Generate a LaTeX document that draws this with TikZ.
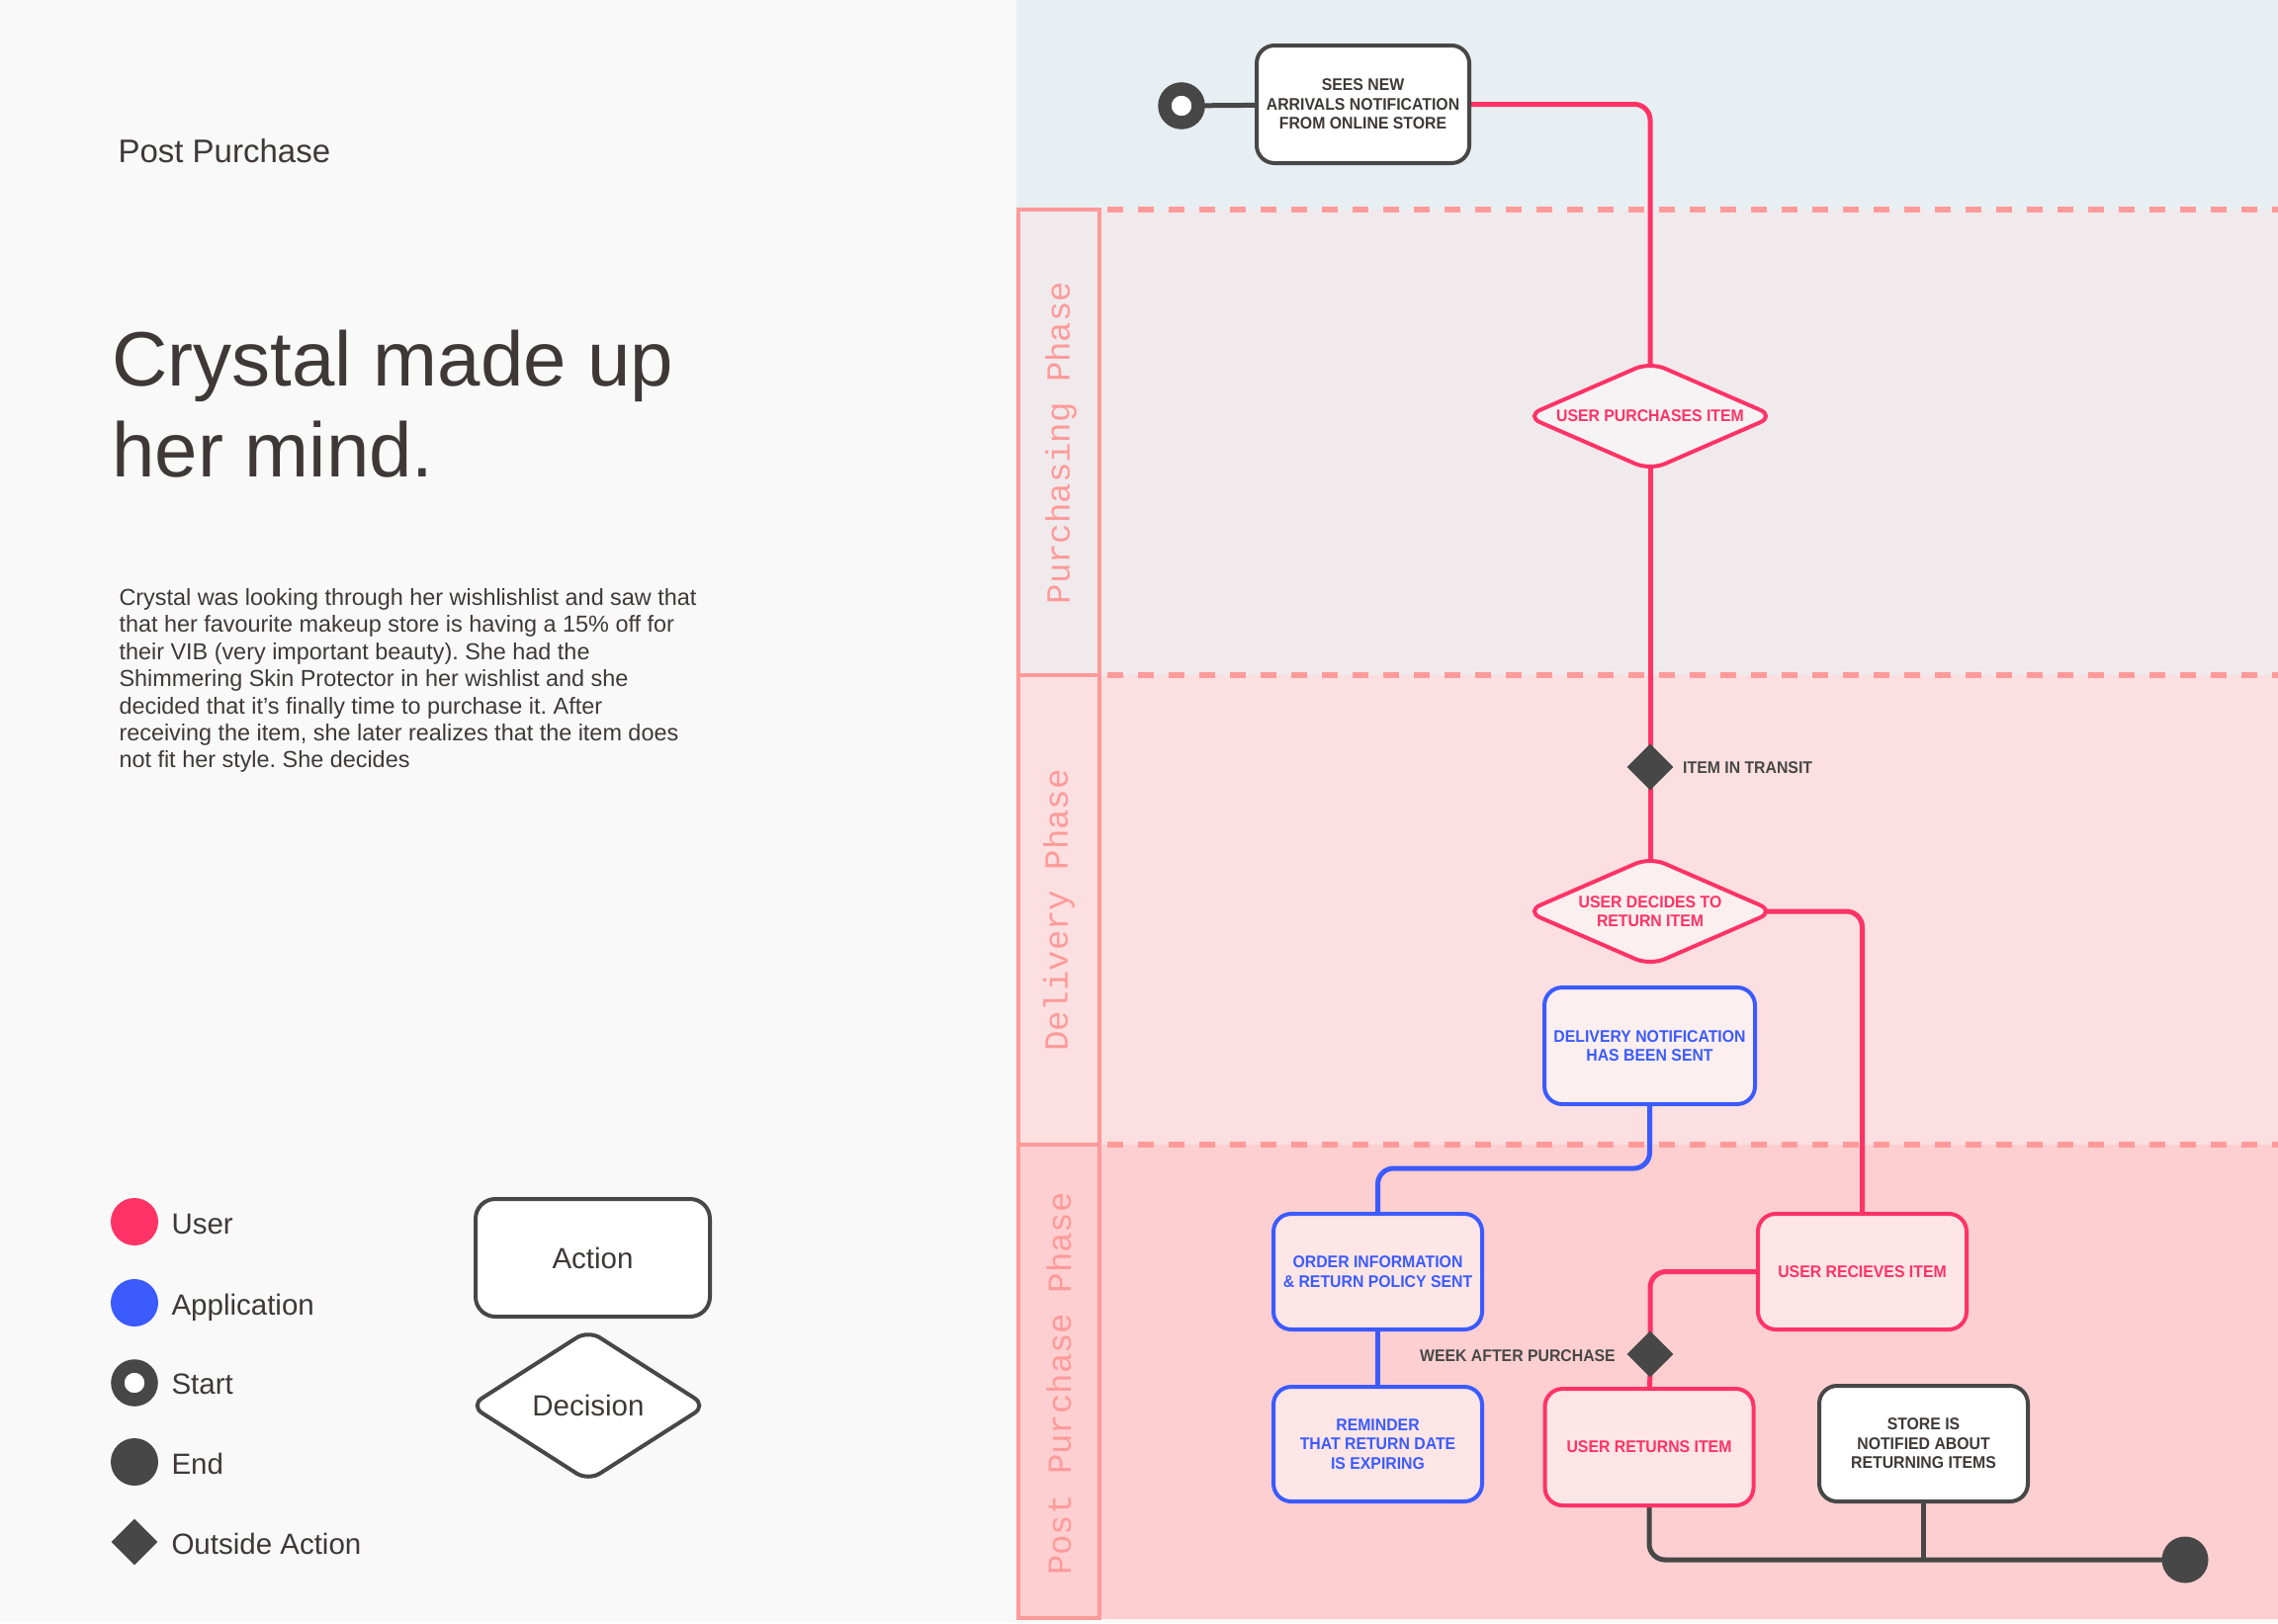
\documentclass[tikz,border=0pt]{standalone}
\usepackage{fontspec}
\setmainfont{Liberation Sans}
\newfontfamily\boxfont[FakeStretch=0.93]{Liberation Sans}
\newfontfamily\lanefont{Liberation Mono}
\usetikzlibrary{shapes.geometric}
\pgfdeclarelayer{bglayer}
\pgfdeclarelayer{linelayer}
\pgfsetlayers{bglayer,linelayer,main}
\definecolor{ured}{HTML}{FF3366}
\definecolor{ablue}{HTML}{3B5BFF}
\definecolor{dgray}{HTML}{474747}
\definecolor{txtdark}{HTML}{3F3838}
\definecolor{leftbg}{HTML}{F9F9F9}
\definecolor{topbg}{HTML}{E8EFF2}
\definecolor{purbg}{HTML}{F0EAEC}
\definecolor{delbg}{HTML}{FCDFE0}
\definecolor{postbg}{HTML}{FDCFD0}
\definecolor{salmon}{HTML}{FF9A9A}
\definecolor{boxpink}{HTML}{FEE6E7}
\definecolor{boxlight}{HTML}{FCEFEF}
\definecolor{decpur}{HTML}{F6F3F4}
\frenchspacing
\begin{document}
\begin{tikzpicture}[x=1pt,y=-1pt,
  boxtxt/.style={font=\boxfont\bfseries\fontsize{17}{19.5}\selectfont},
  actbox/.style={rectangle, rounded corners=18pt, line width=4pt, minimum width=211pt, minimum height=117pt, inner sep=2pt, align=center, boxtxt},
  decbox/.style={diamond, aspect=2.15, draw=ured, text=ured, line width=4pt, rounded corners=16pt, minimum width=253pt, minimum height=111pt, inner sep=0pt, align=center, boxtxt},
  outact/.style={diamond, fill=dgray, minimum width=47pt, minimum height=47pt, inner sep=0pt},
  ucon/.style={draw=ured, line width=5pt, rounded corners=16pt},
  acon/.style={draw=ablue, line width=5pt, rounded corners=16pt},
  gcon/.style={draw=dgray, line width=5pt, rounded corners=16pt},
  lanelbl/.style={rotate=90, text=salmon, font=\lanefont\fontsize{34}{40}\selectfont},
  legtxt/.style={anchor=base west, text=txtdark, font=\fontsize{29.5}{34}\selectfont},
  bodytxt/.style={anchor=base west, text=txtdark, font=\fontsize{23.4}{27.4}\selectfont},
  dashsep/.style={draw=salmon, line width=5.5pt, dash pattern=on 16pt off 15pt}
]
\useasboundingbox (0,0) rectangle (2304,1642);
\begin{pgfonlayer}{bglayer}
% backgrounds
\fill[leftbg] (0,0) rectangle (2304,1642);
\fill[topbg] (1028,0) rectangle (2304,212);
\fill[purbg] (1028,212) rectangle (2304,683);
\fill[delbg] (1028,683) rectangle (2304,1158);
\fill[postbg] (1028,1158) rectangle (2304,1638);
% lane column
\draw[salmon, line width=4pt] (1030,212) rectangle (1112,1637);
\draw[salmon, line width=4pt] (1030,683) -- (1112,683);
\draw[salmon, line width=4pt] (1030,1158) -- (1112,1158);
\draw[dashsep] (1120,212) -- (2304,212);
\draw[dashsep] (1120,683) -- (2304,683);
\draw[dashsep] (1120,1158) -- (2304,1158);
\end{pgfonlayer}
\node[lanelbl] (lanep) at (1073,448) {Purchasing Phase};
\node[lanelbl] (laned) at (1071,921) {Delivery Phase};
\node[lanelbl] (lanepp) at (1071,1400) {Post Purchase Phase};

% left texts
\node[anchor=base west, text=txtdark, font=\fontsize{33}{38}\selectfont] (kicker) at (116,164) {Post Purchase};
\node[anchor=base west, text=txtdark, font=\fontsize{78}{92}\selectfont] (title1) at (110,390) {Crystal made up};
\node[anchor=base west, text=txtdark, font=\fontsize{78}{92}\selectfont] (title2) at (110,482) {her mind.};
\node[bodytxt] (b1) at (117,612.5) {Crystal was looking through her wishlishlist and saw that};
\node[bodytxt] (b2) at (117,639.9) {that her favourite makeup store is having a 15\% off for};
\node[bodytxt] (b3) at (117,667.3) {their VIB (very important beauty). She had the};
\node[bodytxt] (b4) at (117,694.7) {Shimmering Skin Protector in her wishlist and she};
\node[bodytxt] (b5) at (117,722.1) {decided that it's finally time to purchase it. After};
\node[bodytxt] (b6) at (117,749.5) {receiving the item, she later realizes that the item does};
\node[bodytxt] (b7) at (117,776.9) {not fit her style. She decides};

% legend
\node[circle, fill=ured, minimum size=48pt, inner sep=0pt] (lgu) at (136,1236) {};
\node[legtxt] (lgut) at (170,1248) {User};
\node[circle, fill=ablue, minimum size=48pt, inner sep=0pt] (lga) at (136,1318) {};
\node[legtxt] (lgat) at (170,1330) {Application};
\node[circle, draw=dgray, line width=13.5pt, fill=white, minimum size=34pt, inner sep=0pt] (lgs) at (136,1399) {};
\node[legtxt] (lgst) at (170,1410) {Start};
\node[circle, fill=dgray, minimum size=48pt, inner sep=0pt] (lge) at (136,1479) {};
\node[legtxt] (lget) at (170,1491) {End};
\node[outact] (lgo) at (136,1560) {};
\node[legtxt] (lgot) at (170,1572) {Outside Action};
\node[rectangle, rounded corners=20pt, draw=dgray, fill=white, line width=4pt, minimum width=237pt, minimum height=119pt, text=txtdark, font=\fontsize{29.5}{34}\selectfont] (lgact) at (599.5,1272.5) {Action};
\node[diamond, rounded corners=14pt, draw=dgray, fill=white, line width=4pt, minimum width=240pt, minimum height=154pt, inner sep=0pt, text=txtdark, font=\fontsize{29.5}{34}\selectfont] (lgdec) at (595,1422) {Decision};

% diagram nodes
\node[circle, draw=dgray, line width=13.5pt, fill=white, minimum size=34pt, inner sep=0pt] (startc) at (1195,107) {};
\node[actbox, draw=dgray, fill=white, text=txtdark, minimum width=215pt, minimum height=119pt] (sees) at (1378.5,105.5) {SEES NEW\\ARRIVALS NOTIFICATION\\FROM ONLINE STORE};
\node[decbox, fill=decpur] (dp) at (1669,421) {USER PURCHASES ITEM};
\node[outact] (transit) at (1669,776) {};
\node[anchor=west, text=dgray, boxtxt, inner sep=0pt] (transitt) at (1702,777) {ITEM IN TRANSIT};
\node[decbox, fill=boxlight] (dr) at (1669,922) {USER DECIDES TO\\RETURN ITEM};
\node[actbox, draw=ablue, fill=boxlight, text=ablue, minimum width=213pt, minimum height=118pt] (deliv) at (1668.5,1058) {DELIVERY NOTIFICATION\\HAS BEEN SENT};
\node[actbox, draw=ablue, fill=boxpink, text=ablue] (order) at (1393.5,1286.5) {ORDER INFORMATION\\\& RETURN POLICY SENT};
\node[actbox, draw=ablue, fill=boxpink, text=ablue, minimum height=116pt] (remind) at (1393.5,1461) {REMINDER\\THAT RETURN DATE\\IS EXPIRING};
\node[actbox, draw=ured, fill=boxpink, text=ured] (recv) at (1883.5,1286.5) {USER RECIEVES ITEM};
\node[outact] (week) at (1669,1370) {};
\node[anchor=east, text=dgray, boxtxt, inner sep=0pt] (weekt) at (1634,1372) {WEEK AFTER PURCHASE};
\node[actbox, draw=ured, fill=boxpink, text=ured, minimum height=118pt] (returns) at (1668,1464) {USER RETURNS ITEM};
\node[actbox, draw=dgray, fill=white, text=txtdark] (store) at (1945.5,1460.5) {STORE IS\\NOTIFIED ABOUT\\RETURNING ITEMS};
\node[circle, fill=dgray, minimum size=47pt, inner sep=0pt] (endc) at (2210,1578) {};
\coordinate (bjog) at (1500,1182);

% connectors (behind the nodes)
\begin{pgfonlayer}{linelayer}
\draw[gcon] (startc.center) -- (sees.center);
\draw[ucon] (sees.center) -| (dp.center);
\draw[ucon] (dp.center) -- (transit.center);
\draw[ucon] (transit.center) -- (dr.center);
\draw[ucon] (dr.center) -| (recv.center);
\draw[acon] (deliv.center) |- (bjog) -| (order.center);
\draw[acon] (order.center) -- (remind.center);
\draw[ucon] (recv.center) -| (week.center);
\draw[ucon] (week.center) -- (returns.center);
\draw[gcon] (returns.center) |- (endc.center);
\draw[gcon] (store.center) -- (store.center |- endc.center);
\end{pgfonlayer}
\end{tikzpicture}
\end{document}
